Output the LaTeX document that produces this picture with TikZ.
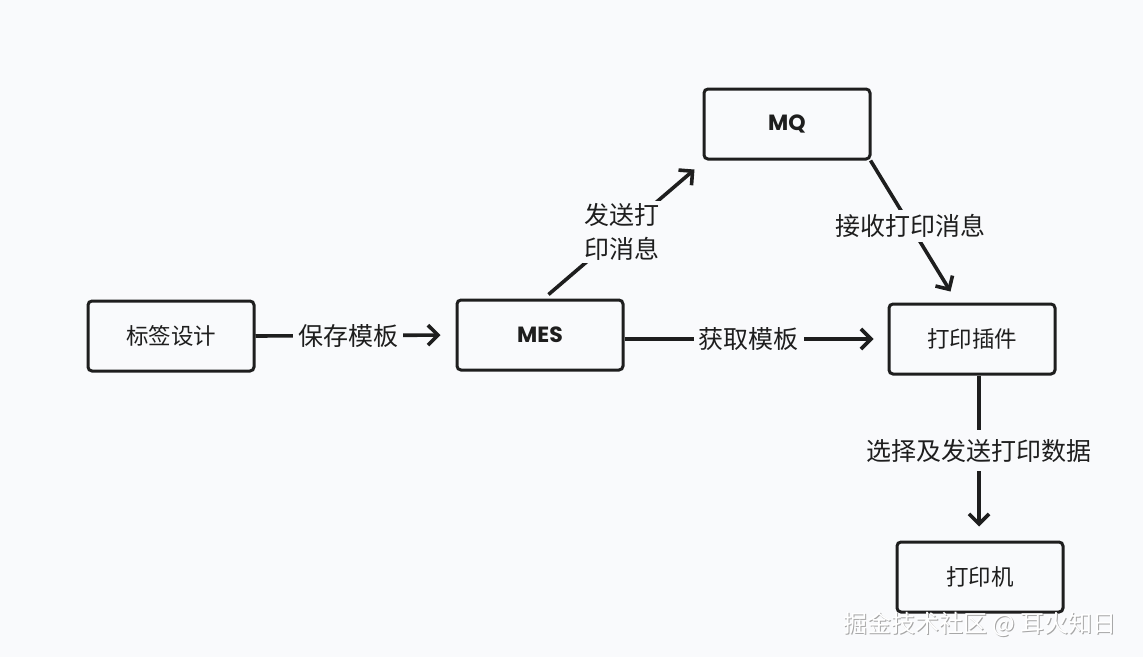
\documentclass[tikz,border=0pt]{standalone}
\usepackage{fontspec}
\newfontfamily\cjk{Noto Sans CJK SC}
\newfontfamily\hand{Poppins}
\usetikzlibrary{arrows.meta,calc}
\definecolor{bg}{HTML}{F9FAFC}
\definecolor{ink}{HTML}{1E1E1E}
\tikzset{
  box/.style={draw=ink, line width=3pt, rounded corners=4pt, minimum width=166pt, minimum height=70pt, inner sep=0pt, fill=bg},
  boxtext/.style={font=\cjk\fontsize{22.5}{24}\selectfont, text=ink},
  handtext/.style={font=\hand\bfseries\fontsize{22}{24}\selectfont, text=ink},
  conn/.style={draw=ink, line width=3.6pt, -{Straight Barb[length=10pt,width=20pt,line width=3.6pt]}},
  elabel/.style={fill=bg, font=\cjk\fontsize{25}{30}\selectfont, text=ink, inner sep=6pt, align=center},
}
\begin{document}
\begin{tikzpicture}[x=1pt,y=-1pt]
\fill[bg] (0,0) rectangle (1143,657);
\useasboundingbox (0,0) rectangle (1143,657);

\node[box, boxtext] (design) at (171,336) {标签设计};
\node[box, handtext] (mes) at (540,335) {MES};
\node[box, handtext] (mq) at (787,124) {MQ};
\node[box, boxtext] (plugin) at (972,339) {打印插件};
\node[box, boxtext] (printer) at (980,577) {打印机};

\draw[conn, shorten >=15pt] (design.east) -- node[elabel, pos=0.463, inner sep=5pt] {保存模板} (mes.west);
\draw[conn, shorten >=14pt] (mes.east |- plugin.west) -- node[elabel, pos=0.472, inner sep=5pt] {获取模板} (plugin.west);
\coordinate (s1) at ($(mes.north west)+(93,-4)$);
\coordinate (e1) at ($(mq.south west)+(-8,9)$);
\draw[conn] (s1) -- node[elabel, inner sep=2pt, font=\cjk\fontsize{25}{34}\selectfont] {发送打\\印消息} (e1);
\coordinate (s2) at ($(mq.south east)+(-1,0)$);
\coordinate (e2) at ($(plugin.north west)+(63,-11)$);
\draw[conn] (s2) -- node[elabel, inner sep=4pt] {接收打印消息} (e2);
\coordinate (s3) at ($(plugin.south)+(7,0)$);
\draw[conn, shorten >=14pt] (s3) -- node[elabel, pos=0.455, inner sep=9pt] {选择及发送打印数据} (s3 |- printer.north);

\node[font=\cjk\fontsize{24}{26}\selectfont, text=gray!70] (wm0) at (981,625) {掘金技术社区 @ 耳火知日};
\node[font=\cjk\fontsize{24}{26}\selectfont, text=white] (wm) at (980,624) {掘金技术社区 @ 耳火知日};
\end{tikzpicture}
\end{document}
